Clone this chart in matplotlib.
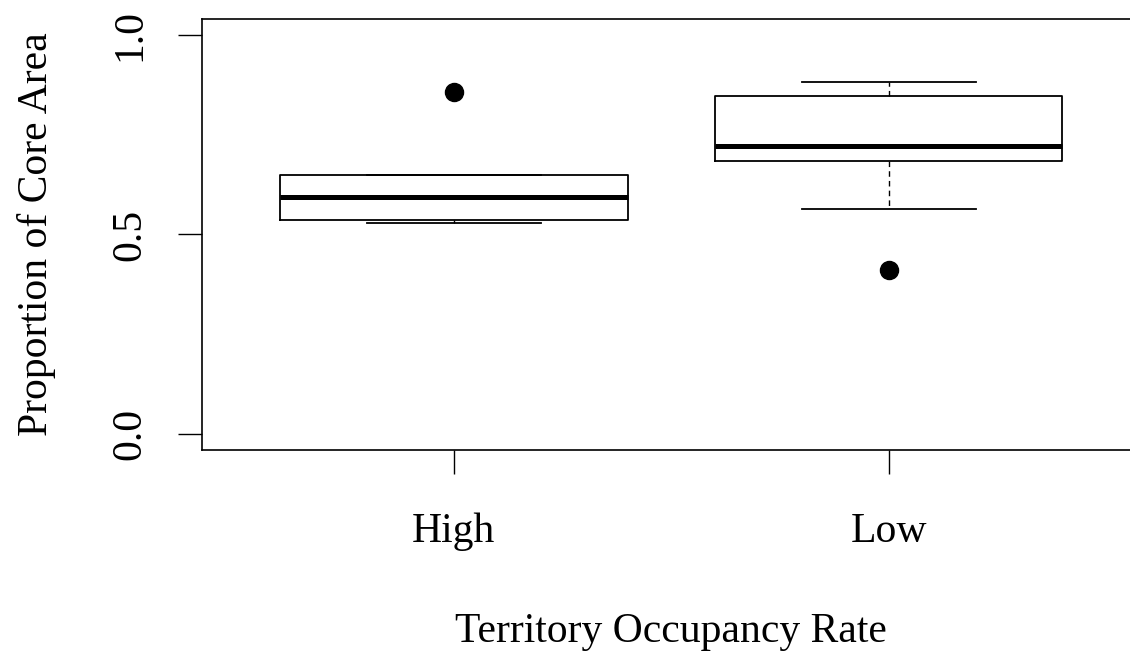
import matplotlib
matplotlib.use("Agg")
import matplotlib.pyplot as plt

# ── Data ────────────────────────────────────────────────
groups     = ["High", "Low"]
medians    = [0.593, 0.723]
q1         = [0.537, 0.684]
q3         = [0.648, 0.847]
whislo     = [0.529, 0.565]
whishi     = [0.648, 0.881]
outliers   = [[0.856], [0.412]]
yticks     = [0.0, 0.5, 1.0]

plt.rcParams["font.family"] = ["Liberation Serif", "DejaVu Serif"]

stats = []
for i, g in enumerate(groups):
    stats.append(dict(label=g, med=medians[i], q1=q1[i], q3=q3[i],
                      whislo=whislo[i], whishi=whishi[i], fliers=outliers[i]))

fig = plt.figure(figsize=(11.3, 6.51), dpi=100)
ax = fig.add_axes([0.1785, 0.3088, 0.831, 0.662])

ax.bxp(stats, positions=[1, 2], widths=0.8, showfliers=True,
       boxprops=dict(color="black", linewidth=1.3),
       medianprops=dict(color="black", linewidth=3.6, solid_capstyle="butt"),
       whiskerprops=dict(color="black", linewidth=1.0, linestyle=(0, (4, 3))),
       capprops=dict(color="black", linewidth=1.3),
       capwidths=0.4,
       flierprops=dict(marker="o", markerfacecolor="black", markeredgecolor="black",
                       markersize=13, linestyle="none"))

ax.set_xlim(0.42, 2.58)
ax.set_ylim(-0.04, 1.04)
ax.set_yticks(yticks)
ax.set_yticklabels([f"{v:.1f}" for v in yticks], rotation=90, va="center")
ax.set_xticks([1, 2])
ax.set_xticklabels(groups)

for s in ax.spines.values():
    s.set_linewidth(1.2)

ax.tick_params(axis="both", direction="out", length=17, width=1.0,
               labelsize=30, color="black")
ax.tick_params(axis="y", pad=21)
ax.tick_params(axis="x", pad=28)

ax.set_xlabel("Territory Occupancy Rate", fontsize=30, labelpad=44)
ax.set_ylabel("Proportion of Core Area", fontsize=30, labelpad=39)

fig.savefig("out.png", dpi=100)
